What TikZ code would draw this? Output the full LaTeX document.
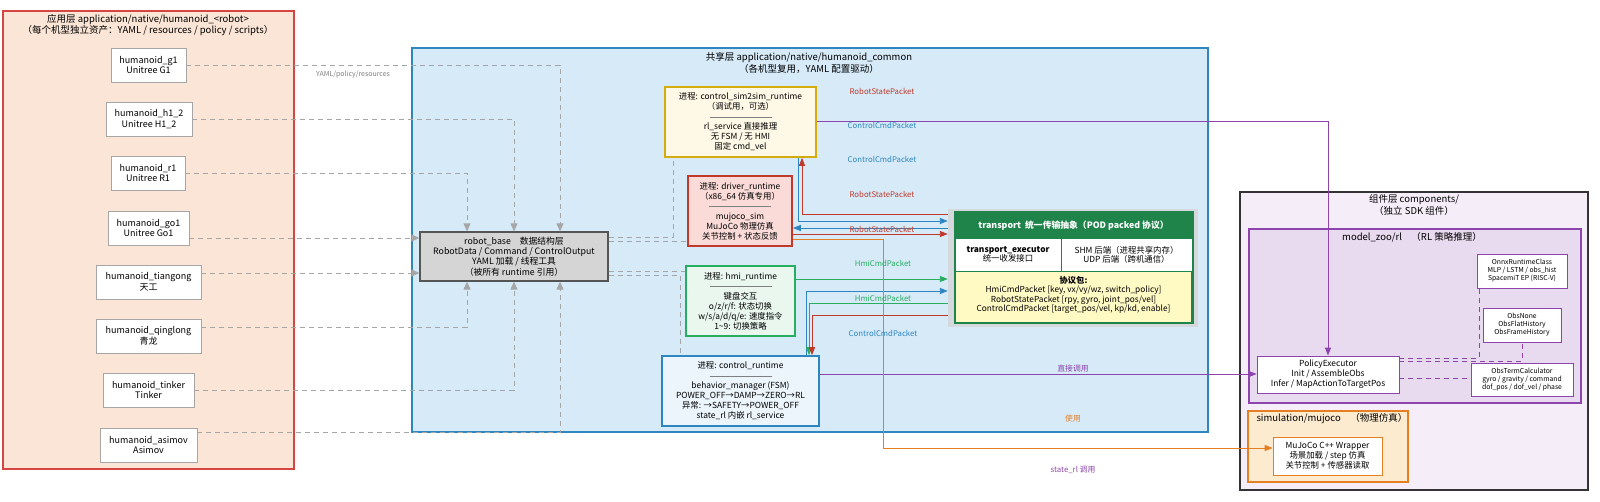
\documentclass[tikz,border=0pt]{standalone}
\usepackage{fontspec}
\setmainfont{Noto Sans CJK SC}
\usetikzlibrary{arrows.meta}
\definecolor{appfill}{HTML}{FBE5D6}\definecolor{appline}{HTML}{D64541}
\definecolor{shfill}{HTML}{D6EAF8}\definecolor{shline}{HTML}{2E86C1}
\definecolor{cpfill}{HTML}{F5EEF8}\definecolor{cpline}{HTML}{333333}
\definecolor{mzfill}{HTML}{E8DAEF}\definecolor{mzline}{HTML}{8E44AD}
\definecolor{smfill}{HTML}{FDEBD0}\definecolor{smline}{HTML}{E67E22}
\definecolor{yfill}{HTML}{FEF9E7}\definecolor{yline}{HTML}{D4AC0D}
\definecolor{rfill}{HTML}{FADBD8}\definecolor{rline}{HTML}{C0392B}
\definecolor{gfill}{HTML}{E9F7EF}\definecolor{gline}{HTML}{27AE60}
\definecolor{bfill}{HTML}{EBF5FB}
\definecolor{tgreen}{HTML}{1E8449}\definecolor{tgray}{HTML}{D5D8DC}\definecolor{tyel}{HTML}{FFF9C4}
\definecolor{rbfill}{HTML}{D5D5D5}\definecolor{rbline}{HTML}{555555}
\definecolor{dgray}{HTML}{A6A6A6}
\newcommand{\sep}{\textcolor{gray}{\rule[0.6ex]{62pt}{0.4pt}}}
\begin{document}
\begin{tikzpicture}[x=1pt,y=-1pt,
 box/.style={draw,align=center,inner sep=0pt,line width=1.6pt,font=\fontsize{8.4}{10}\selectfont},
 wbox/.style={draw=black!35,fill=white,align=center,inner sep=0pt,line width=0.8pt,font=\fontsize{9}{10.8}\selectfont},
 layer/.style={draw,line width=1.5pt,inner sep=0pt},
 title/.style={align=center,font=\fontsize{9.5}{11.5}\selectfont},
 lab/.style={font=\fontsize{7.8}{9}\selectfont},
 arr/.style={line width=0.9pt,-{Triangle[length=8pt,width=6pt]}},
 dep/.style={dgray,line width=0.9pt,dash pattern=on 5pt off 4pt},
 deparr/.style={dep,-{Triangle[length=8pt,width=7pt]}},
 pdash/.style={mzline,line width=0.8pt,dash pattern=on 5pt off 4pt}]
\useasboundingbox (0,0) rectangle (1600,502);
% layers
\node[layer,draw=appline,fill=appfill,minimum width=291pt,minimum height=458pt] (app) at (148.5,240) {};
\node[title] (apptitle) at (148,25) {应用层 application/native/humanoid\_<robot>\\（每个机型独立资产：YAML / resources / policy / scripts）};
\node[layer,draw=shline,fill=shfill,minimum width=796pt,minimum height=384pt] (shared) at (810,240) {};
\node[title] (shtitle) at (809,63) {共享层 application/native/humanoid\_common\\（各机型复用，YAML 配置驱动）};
\node[layer,draw=cpline,fill=cpfill,minimum width=348pt,minimum height=298pt] (comp) at (1414,341) {};
\node[title] (cptitle) at (1414,205) {组件层 components/\\（独立 SDK 组件）};
\node[layer,draw=mzline,fill=mzfill,minimum width=332pt,minimum height=174pt] (mz) at (1415,316) {};
\node[title] (mztitle) at (1412,237) {model\_zoo/rl\quad（RL 策略推理）};
\node[layer,draw=smline,fill=smfill,minimum width=160pt,minimum height=71pt] (sm) at (1328,446.5) {};
\node[title,anchor=west] (smtitle) at (1253,419) {simulation/mujoco\quad（物理仿真）};
% robots
\node[wbox,minimum width=75pt,minimum height=34pt] (g1) at (148.5,65) {humanoid\_g1\\Unitree G1};
\node[wbox,minimum width=86pt,minimum height=34pt] (h1) at (149,119) {humanoid\_h1\_2\\Unitree H1\_2};
\node[wbox,minimum width=74pt,minimum height=34pt] (r1) at (148,173) {humanoid\_r1\\Unitree R1};
\node[wbox,minimum width=81pt,minimum height=34pt] (go1) at (148.5,228) {humanoid\_go1\\Unitree Go1};
\node[wbox,minimum width=105pt,minimum height=34pt] (tg) at (148.5,282) {humanoid\_tiangong\\天工};
\node[wbox,minimum width=105pt,minimum height=34pt] (ql) at (148.5,336) {humanoid\_qinglong\\青龙};
\node[wbox,minimum width=91pt,minimum height=34pt] (tk) at (148.5,390) {humanoid\_tinker\\Tinker};
\node[wbox,minimum width=97pt,minimum height=34pt] (as) at (148.5,445) {humanoid\_asimov\\Asimov};
% shared
\node[box,draw=rbline,fill=rbfill,line width=1.3pt,minimum width=188pt,minimum height=49pt,font=\fontsize{8.8}{10.2}\selectfont] (rb) at (514,256.5) {robot\_base\quad 数据结构层\\RobotData / Command / ControlOutput\\YAML 加载 / 线程工具\\（被所有 runtime 引用）};
\node[box,draw=yline,fill=yfill,minimum width=151pt,minimum height=70pt] (sim) at (740.5,122) {进程: control\_sim2sim\_runtime\\（调试用，可选）\\\sep\\rl\_service 直接推理\\无 FSM / 无 HMI\\固定 cmd\_vel};
\node[box,draw=rline,fill=rfill,minimum width=104pt,minimum height=70pt] (drv) at (740,211) {进程: driver\_runtime\\（x86\_64 仿真专用）\\\sep\\mujoco\_sim\\MuJoCo 物理仿真\\关节控制 + 状态反馈};
\node[box,draw=gline,fill=gfill,minimum width=109pt,minimum height=70pt] (hmi) at (740.5,301) {进程: hmi\_runtime\\\sep\\键盘交互\\o/z/r/f: 状态切换\\w/s/a/d/q/e: 速度指令\\1\textasciitilde9: 切换策略};
\node[box,draw=shline,fill=bfill,minimum width=157pt,minimum height=70pt] (ctrl) at (740.5,391) {进程: control\_runtime\\\sep\\behavior\_manager (FSM)\\POWER\_OFF→DAMP→ZERO→RL\\异常: →SAFETY→POWER\_OFF\\state\_rl 内嵌 rl\_service};
% transport
\node[fill=tgray,minimum width=250pt,minimum height=118pt,inner sep=0pt] (tout) at (1073,268) {};
\node[draw=tgreen,line width=1.5pt,fill=tyel,minimum width=237pt,minimum height=110pt,inner sep=0pt] (tin) at (1073.5,268) {};
\node[fill=tgreen,minimum width=237pt,minimum height=25pt,inner sep=0pt,text=white,font=\fontsize{8.8}{10}\selectfont\bfseries] (thead) at (1073.5,225.5) {transport\ \ 统一传输抽象（POD packed 协议）};
\node[draw=tgreen,line width=0.8pt,fill=white,minimum width=106pt,minimum height=33pt,inner sep=0pt,align=center,font=\fontsize{8.4}{9.2}\selectfont] (texec) at (1008,254.5) {\textbf{transport\_executor}\\统一收发接口};
\node[draw=tgreen,line width=0.8pt,fill=white,minimum width=131pt,minimum height=33pt,inner sep=0pt,align=center,font=\fontsize{8.4}{9.2}\selectfont] (tback) at (1126.5,254.5) {SHM 后端（进程共享内存）\\UDP 后端（跨机通信）};
\node[align=center,inner sep=0pt,font=\fontsize{8.3}{9.4}\selectfont] (tpk) at (1073.5,295) {\textbf{协议包:}\\HmiCmdPacket [key, vx/vy/wz, switch\_policy]\\RobotStatePacket [rpy, gyro, joint\_pos/vel]\\ControlCmdPacket [target\_pos/vel, kp/kd, enable]};
\draw[tgreen,line width=1.5pt] (tin.north west) rectangle (tin.south east);
% components
\node[wbox,draw=mzline,line width=0.8pt,minimum width=90pt,minimum height=34pt,font=\fontsize{6.8}{8}\selectfont] (onnx) at (1522,271) {OnnxRuntimeClass\\MLP / LSTM / obs\_hist\\SpacemiT EP (RISC-V)};
\node[wbox,draw=mzline,line width=0.8pt,minimum width=78pt,minimum height=34pt,font=\fontsize{6.8}{8}\selectfont] (obsn) at (1522,325) {ObsNone\\ObsFlatHistory\\ObsFrameHistory};
\node[wbox,draw=mzline,line width=0.8pt,minimum width=102pt,minimum height=33pt,font=\fontsize{6.8}{8}\selectfont] (obst) at (1522,379.5) {ObsTermCalculator\\gyro / gravity / command\\dof\_pos / dof\_vel / phase};
\node[wbox,draw=mzline,line width=0.8pt,minimum width=142pt,minimum height=37pt,font=\fontsize{8.4}{10.2}\selectfont] (pol) at (1328,374.5) {PolicyExecutor\\Init / AssembleObs\\Infer / MapActionToTargetPos};
\node[wbox,draw=smline,line width=0.8pt,minimum width=109pt,minimum height=38pt,font=\fontsize{8.4}{10.2}\selectfont] (wrap) at (1327.5,456) {MuJoCo C++ Wrapper\\场景加载 / step 仿真\\关节控制 + 传感器读取};
% gray dependencies
\draw[deparr] (g1.east) -| (rb.north -| 560,0);
\draw[deparr] (h1.east) -| (rb.north -| 514,0);
\draw[deparr] (r1.east) -| (rb.north -| 467,0);
\draw[deparr] (go1.east |- 0,238) -- (rb.west |- 0,238);
\draw[deparr] (tg.east |- 0,273) -- (rb.west |- 0,273);
\draw[deparr] (ql.east |- 0,327) -| (rb.south -| 467,0);
\draw[deparr] (tk.east |- 0,390) -| (rb.south -| 514,0);
\draw[deparr] (as.east |- 0,432) -| (rb.south -| 560,0);
\node[lab,text=gray,font=\fontsize{7}{8}\selectfont] (yamllab) at (353,75) {YAML/policy/resources};
\draw[dep] (rb.east |- 0,237) -| (sim.south -| 673,0);
\draw[dep] (rb.east |- 0,241) -- (drv.west |- 0,241);
\draw[dep] (rb.east |- 0,271) -- (hmi.west |- 0,271);
\draw[dep] (rb.east |- 0,275) -| (ctrl.north -| 680,0);
% packets
\draw[arr,rline] (tout.west |- 0,214) -| (sim.south -| 802,0);
\draw[arr,shline] (sim.south -| 798,0) |- (tout.west |- 0,221);
\draw[arr,shline] (tout.west |- 0,228) -- (drv.east |- 0,228);
\draw[arr,rline] (drv.east |- 0,234) -- (tout.west |- 0,234);
\draw[arr,gline] (hmi.east |- 0,279) -- (tout.west |- 0,279);
\draw[arr,shline] (ctrl.north -| 806,0) |- (tout.west |- 0,291);
\draw[arr,gline] (tout.west |- 0,303) -| (ctrl.north -| 809,0);
\draw[arr,rline] (tout.west |- 0,315) -| (ctrl.north -| 812,0);
\draw[arr,mzline] (sim.east |- 0,121) -| (pol.north -| 1328,0);
\draw[arr,mzline] (ctrl.east |- 0,374) -- (pol.west |- 0,374);
\draw[arr,smline] (drv.east |- 0,239) -- (883,239) |- (wrap.west |- 0,448);
\draw[pdash] (pol.east |- 0,358) -| (onnx.south -| 1479,0);
\draw[pdash] (pol.east |- 0,361) -| (obsn.south -| 1522,0);
\draw[pdash] (pol.east |- 0,378) -- (obst.west |- 0,378);
% labels
\node[lab,text=rline] (l1) at (882,91) {RobotStatePacket};
\node[lab,text=shline] (l2) at (882,125) {ControlCmdPacket};
\node[lab,text=shline] (l3) at (882,159) {ControlCmdPacket};
\node[lab,text=rline] (l4) at (882,194) {RobotStatePacket};
\node[lab,text=rline] (l5) at (882,229) {RobotStatePacket};
\node[lab,text=gline] (l6) at (883,263) {HmiCmdPacket};
\node[lab,text=gline] (l7) at (883,298) {HmiCmdPacket};
\node[lab,text=shline] (l8) at (883,333) {ControlCmdPacket};
\node[lab,text=mzline] (l9) at (1073,369) {直接调用};
\node[lab,text=smline] (l10) at (1073,419) {使用};
\node[lab,text=mzline] (l11) at (1073,470) {state\_rl 调用};
\end{tikzpicture}
\end{document}
